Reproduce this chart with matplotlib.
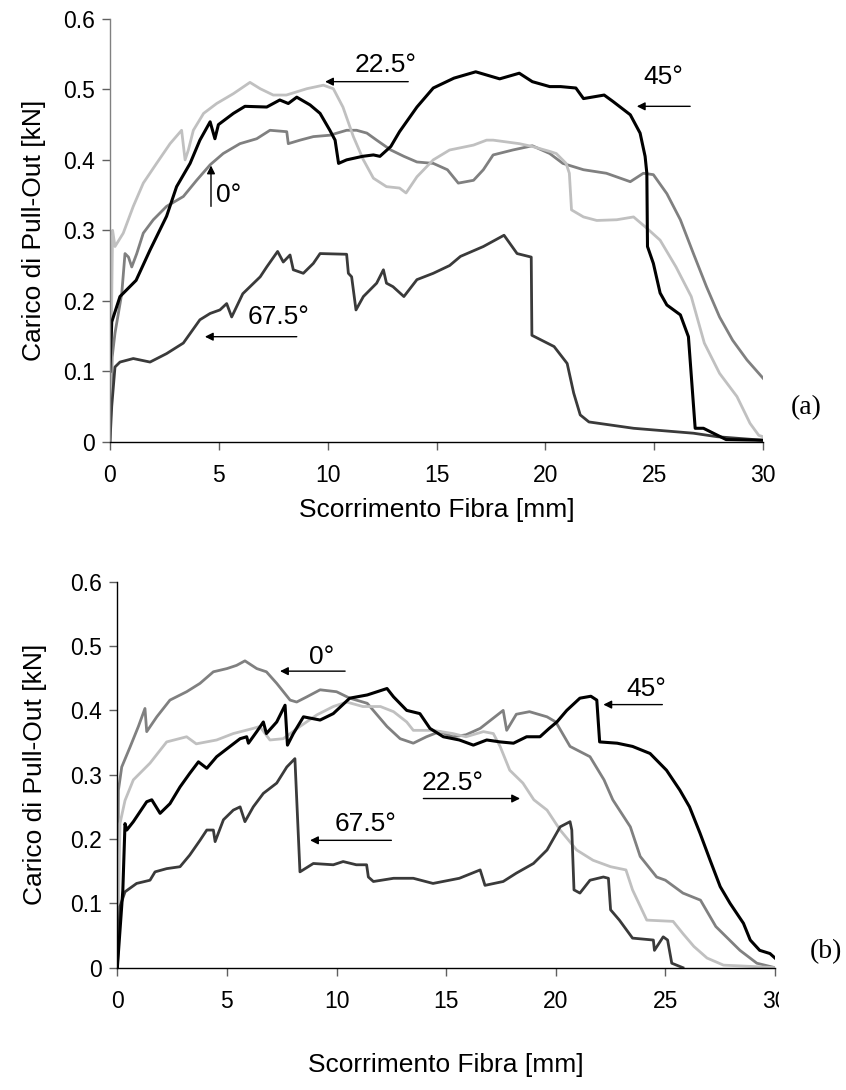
import matplotlib
matplotlib.use("Agg")
import matplotlib.pyplot as plt
from matplotlib.transforms import Bbox, TransformedBbox

# ---------------- data: panel (a) ----------------
a45_x = [0.0, 0.08, 0.46, 1.2, 1.84, 2.6, 3.06, 3.68, 4.13, 4.6, 4.82, 4.98, 5.67, 6.2, 7.2, 7.8, 8.19, 8.58,
         9.19, 9.65, 10.1, 10.34, 10.5, 10.87, 11.6, 12.1, 12.4, 12.9, 13.3, 14.1, 14.85, 15.8, 16.8, 17.9,
         18.8, 19.4, 20.2, 20.7, 21.4, 21.75, 22.7, 23.1, 23.9, 24.35, 24.58, 24.66, 24.69, 24.96, 25.27,
         25.58, 26.2, 26.57, 26.88, 27.26, 28.3, 30.0]
a45_y = [0.10, 0.17, 0.206, 0.229, 0.272, 0.32, 0.362, 0.395, 0.428, 0.454, 0.43, 0.45, 0.466, 0.476, 0.475,
         0.485, 0.48, 0.489, 0.478, 0.466, 0.442, 0.428, 0.395, 0.40, 0.405, 0.407, 0.405, 0.419, 0.44, 0.475,
         0.502, 0.516, 0.525, 0.515, 0.523, 0.511, 0.504, 0.504, 0.502, 0.487, 0.492, 0.483, 0.464, 0.438,
         0.405, 0.381, 0.277, 0.253, 0.211, 0.194, 0.18, 0.149, 0.019, 0.019, 0.003, 0.002]

a225_x = [0.0, 0.08, 0.12, 0.23, 0.61, 1.07, 1.53, 2.14, 2.76, 3.29, 3.45, 3.6, 3.83, 4.3, 4.9, 5.67, 6.43,
          6.9, 7.5, 8.1, 9.04, 9.8, 10.26, 10.7, 11.18, 11.64, 12.1, 12.7, 13.3, 13.6, 14.1, 14.85, 15.6,
          16.7, 17.3, 17.6, 18.8, 19.4, 20.2, 20.5, 20.95, 21.1, 21.2, 21.75, 22.36, 23.28, 24.05, 24.66,
          25.27, 26.0, 26.7, 27.3, 28.0, 28.8, 29.4, 29.8, 30.0]
a225_y = [0.0, 0.2, 0.3, 0.277, 0.296, 0.334, 0.367, 0.395, 0.423, 0.442, 0.40, 0.414, 0.442, 0.466, 0.48,
          0.494, 0.51, 0.501, 0.492, 0.492, 0.501, 0.506, 0.501, 0.475, 0.433, 0.40, 0.374, 0.362, 0.36,
          0.353, 0.376, 0.40, 0.414, 0.421, 0.428, 0.428, 0.423, 0.419, 0.412, 0.409, 0.395, 0.381, 0.329,
          0.319, 0.314, 0.315, 0.319, 0.303, 0.286, 0.248, 0.206, 0.14, 0.097, 0.064, 0.026, 0.009, 0.007]

a0_x = [0.0, 0.1, 0.23, 0.54, 0.69, 0.85, 1.0, 1.23, 1.53, 1.99, 2.6, 3.37, 3.98, 4.6, 5.2, 5.97, 6.74, 7.35,
        8.12, 8.19, 8.73, 9.34, 10.1, 10.87, 11.33, 11.8, 12.25, 12.9, 13.5, 14.1, 14.85, 15.5, 16.0, 16.7,
        17.15, 17.6, 18.5, 19.4, 20.2, 20.8, 21.75, 22.8, 23.9, 24.5, 24.96, 25.58, 26.2, 26.8, 27.4, 28.0,
        28.6, 29.26, 30.0]
a0_y = [0.0, 0.12, 0.154, 0.21, 0.267, 0.262, 0.248, 0.267, 0.296, 0.315, 0.334, 0.348, 0.371, 0.393, 0.409,
        0.423, 0.43, 0.442, 0.44, 0.423, 0.428, 0.433, 0.435, 0.442, 0.442, 0.438, 0.428, 0.414, 0.405,
        0.397, 0.395, 0.386, 0.367, 0.371, 0.386, 0.407, 0.414, 0.420, 0.409, 0.395, 0.386, 0.381, 0.369,
        0.381, 0.379, 0.352, 0.315, 0.267, 0.22, 0.177, 0.144, 0.116, 0.09]

a675_x = [0.0, 0.08, 0.23, 0.46, 1.07, 1.84, 2.6, 3.37, 4.13, 4.6, 5.05, 5.36, 5.59, 6.1, 6.9, 7.2, 7.7, 7.96,
          8.27, 8.42, 8.88, 9.34, 9.65, 10.87, 10.95, 11.1, 11.3, 11.64, 12.25, 12.56, 12.7, 13.0, 13.5,
          14.1, 14.85, 15.6, 16.1, 17.15, 18.1, 18.7, 19.35, 19.38, 20.4, 21.0, 21.3, 21.6, 22.0, 24.05,
          26.8, 27.9, 30.0]
a675_y = [0.0, 0.05, 0.106, 0.113, 0.118, 0.113, 0.125, 0.14, 0.173, 0.182, 0.187, 0.196, 0.177, 0.21, 0.234,
          0.248, 0.27, 0.255, 0.265, 0.244, 0.239, 0.253, 0.267, 0.266, 0.239, 0.234, 0.187, 0.206, 0.225,
          0.244, 0.225, 0.22, 0.206, 0.23, 0.239, 0.25, 0.263, 0.277, 0.293, 0.267, 0.262, 0.151, 0.135,
          0.111, 0.069, 0.038, 0.028, 0.019, 0.012, 0.007, 0.002]

# ---------------- data: panel (b) ----------------
b0_x = [0.0, 0.05, 0.2, 0.58, 0.96, 1.26, 1.34, 1.8, 2.4, 3.16, 3.77, 4.38, 5.0, 5.44, 5.82, 6.36, 6.8, 7.27,
        7.88, 8.18, 8.64, 9.25, 10.0, 10.6, 11.4, 11.8, 12.3, 12.9, 13.5, 14.1, 14.7, 15.3, 15.9, 16.55,
        17.6, 17.76, 18.2, 18.8, 19.6, 20.0, 20.65, 21.56, 22.2, 22.6, 23.4, 23.85, 24.6, 25.0, 25.8, 26.6,
        27.3, 28.4, 29.17, 30.0]
b0_y = [0.0, 0.276, 0.312, 0.343, 0.375, 0.403, 0.367, 0.39, 0.416, 0.429, 0.442, 0.46, 0.465, 0.47, 0.477,
        0.465, 0.46, 0.442, 0.416, 0.413, 0.421, 0.432, 0.429, 0.419, 0.411, 0.395, 0.375, 0.356, 0.349,
        0.359, 0.367, 0.359, 0.362, 0.372, 0.40, 0.369, 0.394, 0.398, 0.39, 0.382, 0.344, 0.328, 0.292,
        0.261, 0.219, 0.173, 0.141, 0.136, 0.116, 0.105, 0.064, 0.027, 0.007, 0.0]

b225_x = [0.0, 0.12, 0.35, 0.73, 1.49, 2.25, 3.16, 3.6, 4.53, 5.29, 6.2, 6.5, 6.96, 7.57, 8.33, 9.1, 9.85,
          10.46, 11.2, 12.0, 12.6, 13.2, 13.5, 14.4, 15.3, 15.9, 16.7, 17.15, 17.46, 17.9, 18.5, 19.0, 19.6,
          20.2, 20.95, 21.7, 22.5, 23.2, 23.5, 24.15, 25.35, 25.8, 26.3, 26.9, 27.65, 28.9, 30.0]
b225_y = [0.0, 0.224, 0.26, 0.292, 0.318, 0.351, 0.359, 0.348, 0.354, 0.364, 0.372, 0.375, 0.354, 0.356,
          0.375, 0.393, 0.406, 0.413, 0.406, 0.406, 0.398, 0.382, 0.369, 0.369, 0.364, 0.359, 0.367, 0.364,
          0.344, 0.307, 0.287, 0.261, 0.245, 0.214, 0.183, 0.167, 0.157, 0.152, 0.121, 0.074, 0.072, 0.053,
          0.033, 0.015, 0.004, 0.002, 0.0]

b45_x = [0.0, 0.25, 0.35, 0.43, 0.73, 1.34, 1.57, 1.95, 2.4, 2.86, 3.3, 3.7, 4.08, 4.53, 5.14, 5.6, 5.9, 5.98,
         6.36, 6.66, 6.8, 7.27, 7.65, 7.76, 8.03, 8.49, 9.25, 9.85, 10.6, 11.4, 12.3, 12.6, 13.2, 13.8,
         14.26, 14.87, 15.6, 16.24, 16.85, 17.46, 18.07, 18.67, 19.28, 19.7, 20.05, 20.5, 21.1, 21.6, 21.87,
         22.0, 22.8, 23.5, 24.3, 25.05, 25.66, 26.1, 26.58, 27.04, 27.5, 27.95, 28.56, 28.87, 29.3, 29.77, 30.0]
b45_y = [0.0, 0.12, 0.224, 0.214, 0.227, 0.258, 0.261, 0.24, 0.255, 0.281, 0.302, 0.32, 0.31, 0.328, 0.344,
         0.356, 0.359, 0.349, 0.367, 0.382, 0.364, 0.382, 0.408, 0.346, 0.364, 0.39, 0.385, 0.395, 0.419,
         0.424, 0.434, 0.421, 0.40, 0.395, 0.372, 0.359, 0.354, 0.346, 0.354, 0.351, 0.349, 0.359, 0.359,
         0.372, 0.382, 0.40, 0.419, 0.422, 0.416, 0.351, 0.349, 0.344, 0.333, 0.307, 0.276, 0.25, 0.209,
         0.167, 0.126, 0.10, 0.069, 0.043, 0.027, 0.022, 0.015]

b675_x = [0.0, 0.12, 0.35, 0.88, 1.49, 1.72, 2.25, 2.86, 3.3, 3.77, 4.08, 4.38, 4.46, 4.84, 5.29, 5.6, 5.82,
          6.2, 6.66, 7.27, 7.73, 8.1, 8.33, 8.94, 9.85, 10.3, 10.9, 11.37, 11.45, 11.68, 12.6, 13.5, 14.4,
          15.6, 16.55, 16.77, 17.6, 18.2, 18.98, 19.6, 20.2, 20.65, 20.73, 20.83, 21.1, 21.56, 22.17, 22.4,
          22.5, 22.9, 23.5, 24.45, 24.5, 24.9, 25.1, 25.29, 25.8]
b675_y = [0.0, 0.095, 0.118, 0.131, 0.136, 0.149, 0.154, 0.157, 0.175, 0.198, 0.214, 0.214, 0.196, 0.23,
          0.245, 0.25, 0.227, 0.25, 0.271, 0.287, 0.312, 0.325, 0.149, 0.162, 0.16, 0.165, 0.16, 0.16, 0.141,
          0.134, 0.139, 0.139, 0.131, 0.139, 0.152, 0.128, 0.134, 0.147, 0.162, 0.183, 0.219, 0.227, 0.214,
          0.121, 0.116, 0.136, 0.141, 0.139, 0.09, 0.074, 0.046, 0.043, 0.027, 0.048, 0.043, 0.007, 0.0]

x_ticks = [0, 5, 10, 15, 20, 25, 30]
y_ticks = [0, 0.1, 0.2, 0.3, 0.4, 0.5, 0.6]
y_ticklabels = ["0", "0.1", "0.2", "0.3", "0.4", "0.5", "0.6"]
x_label = "Scorrimento Fibra [mm]"
y_label = "Carico di Pull-Out [kN]"

C_BLACK = "#000000"
C_LIGHT = "#c0c0c0"
C_MID = "#808080"
C_DARK = "#3a3a3a"

plt.rcParams["font.family"] = ["Liberation Sans", "DejaVu Sans"]

fig = plt.figure(figsize=(8.46, 10.90), dpi=100)
axA = fig.add_axes([0.130, 0.5948, 0.772, 0.3878])
axB = fig.add_axes([0.1387, 0.1122, 0.7774, 0.3541])

FS_TICK = 16.5
FS_LAB = 19
FS_ANN = 19


def style(ax, left_color, xpad, ypad):
    ax.set_xlim(0, 30)
    ax.set_ylim(0, 0.6)
    ax.set_xticks(x_ticks)
    ax.set_xticklabels([str(v) for v in x_ticks])
    ax.set_yticks(y_ticks)
    ax.set_yticklabels(y_ticklabels)
    for s in ("top", "right"):
        ax.spines[s].set_visible(False)
    ax.spines["left"].set_color(left_color)
    ax.spines["bottom"].set_color("#000000")
    ax.spines["left"].set_linewidth(1.0)
    ax.spines["bottom"].set_linewidth(1.0)
    ax.tick_params(axis="both", direction="out", length=6, width=1.0, color="#606060",
                   labelsize=FS_TICK, pad=5)
    ax.tick_params(axis="x", pad=10)
    ax.set_xlabel(x_label, fontsize=FS_LAB, labelpad=xpad)
    ax.set_ylabel(y_label, fontsize=FS_LAB, labelpad=ypad)


def arrow(ax, x0, y0, x1, y1):
    ax.annotate("", xy=(x1, y1), xytext=(x0, y0),
                arrowprops=dict(arrowstyle="-|>", color="black", lw=1.0,
                                mutation_scale=12, shrinkA=0, shrinkB=0))


# ---- panel (a)
style(axA, "#808080", 8, 12)
axA.plot(a0_x, a0_y, color=C_MID, lw=2.0)
axA.plot(a225_x, a225_y, color=C_LIGHT, lw=2.0)
axA.plot(a675_x, a675_y, color=C_DARK, lw=2.0)
axA.plot(a45_x, a45_y, color=C_BLACK, lw=2.2)
axA.text(12.66, 0.535, "22.5°", fontsize=FS_ANN, ha="center", va="center")
arrow(axA, 13.7, 0.511, 9.88, 0.511)
axA.text(25.4, 0.518, "45°", fontsize=FS_ANN, ha="center", va="center")
arrow(axA, 26.65, 0.476, 24.2, 0.476)
axA.text(4.85, 0.35, "0°", fontsize=FS_ANN, ha="left", va="center")
arrow(axA, 4.64, 0.334, 4.64, 0.392)
axA.text(7.73, 0.177, "67.5°", fontsize=FS_ANN, ha="center", va="center")
arrow(axA, 8.58, 0.149, 4.36, 0.149)
fig.text(806 / 846, 1 - 408 / 1090, "(a)", fontsize=20, family="Liberation Serif",
         ha="center", va="center")

# ---- panel (b)
style(axB, "#000000", 29, 17)
axB.plot(b0_x, b0_y, color=C_MID, lw=2.0)
axB.plot(b225_x, b225_y, color=C_LIGHT, lw=2.0)
axB.plot(b675_x, b675_y, color=C_DARK, lw=2.0)
axB.plot(b45_x, b45_y, color=C_BLACK, lw=2.2)
axB.text(9.32, 0.483, "0°", fontsize=FS_ANN, ha="center", va="center")
arrow(axB, 10.39, 0.461, 7.42, 0.461)
axB.text(11.33, 0.224, "67.5°", fontsize=FS_ANN, ha="center", va="center")
arrow(axB, 12.5, 0.198, 8.79, 0.198)
axB.text(15.28, 0.287, "22.5°", fontsize=FS_ANN, ha="center", va="center")
arrow(axB, 13.96, 0.263, 18.37, 0.263)
axB.text(24.15, 0.434, "45°", fontsize=FS_ANN, ha="center", va="center")
arrow(axB, 24.86, 0.409, 22.17, 0.409)
fig.text(826 / 846, 1 - 952 / 1090, "(b)", fontsize=20, family="Liberation Serif",
         ha="center", va="center")

# the last x tick label of panel (b) is cut at the plot edge in the reference
clip = TransformedBbox(Bbox([[0, 0], [779 / 846, 1]]), fig.transFigure)
for lbl in axB.get_xticklabels():
    if lbl.get_text() == "30":
        lbl.set_clip_box(clip)
        lbl.set_clip_on(True)

fig.savefig("out.png", dpi=100)
